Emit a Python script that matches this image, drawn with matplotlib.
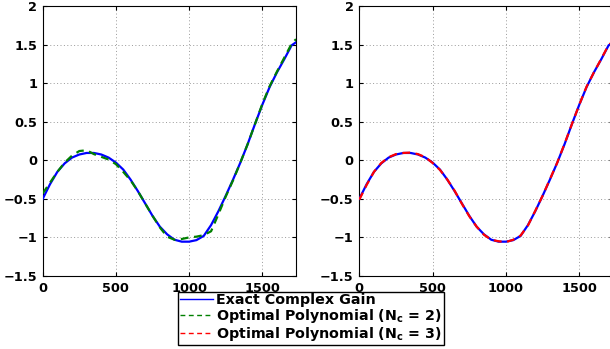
import matplotlib
matplotlib.use("Agg")
import matplotlib.pyplot as plt

# ---- data ----
x = [0, 50, 100, 150, 200, 250, 300, 350, 400, 450, 500, 550, 600, 650, 700,
     750, 800, 850, 900, 950, 1000, 1050, 1100, 1150, 1200, 1250, 1300, 1350,
     1400, 1450, 1500, 1550, 1600, 1650, 1700, 1730]

exact = [-0.50, -0.31, -0.15, -0.04, 0.035, 0.075, 0.095, 0.095, 0.075, 0.035,
         -0.03, -0.12, -0.25, -0.40, -0.56, -0.72, -0.86, -0.96, -1.03, -1.055,
         -1.055, -1.035, -0.98, -0.84, -0.66, -0.46, -0.25, -0.03, 0.21, 0.47,
         0.72, 0.95, 1.14, 1.31, 1.49, 1.53]

poly2 = [-0.43, -0.29, -0.15, -0.03, 0.06, 0.12, 0.13, 0.08, 0.045, 0.01,
         -0.05, -0.15, -0.26, -0.40, -0.56, -0.72, -0.87, -0.99, -1.03, -1.02,
         -1.00, -0.99, -0.97, -0.92, -0.70, -0.47, -0.26, -0.03, 0.21, 0.47,
         0.73, 0.96, 1.15, 1.33, 1.51, 1.57]

poly3 = [-0.51, -0.32, -0.15, -0.035, 0.04, 0.08, 0.095, 0.10, 0.08, 0.04,
         -0.035, -0.125, -0.25, -0.395, -0.565, -0.725, -0.86, -0.965, -1.03, -1.05,
         -1.06, -1.03, -0.975, -0.845, -0.655, -0.46, -0.245, -0.03, 0.215, 0.47,
         0.72, 0.955, 1.14, 1.315, 1.495, 1.54]

xticks = [0, 500, 1000, 1500]
yticks = [-1.5, -1, -0.5, 0, 0.5, 1, 1.5, 2]
ytick_labels = ["\u22121.5", "\u22121", "\u22120.5", "0", "0.5", "1", "1.5", "2"]
labels = ["Exact Complex Gain",
          r"Optimal Polynomial (N$_\mathbf{c}$ = 2)",
          r"Optimal Polynomial (N$_\mathbf{c}$ = 3)"]

plt.rcParams['font.family'] = ['DejaVu Sans']
plt.rcParams['font.weight'] = 'bold'
plt.rcParams['mathtext.fontset'] = 'dejavusans'
plt.rcParams['mathtext.default'] = 'bf'

W, H = 610, 349
fig = plt.figure(figsize=(W / 100, H / 100), dpi=100)

def px_axes(l, t, r, b):
    return fig.add_axes([l / W, 1 - b / H, (r - l) / W, (b - t) / H])

ax1 = px_axes(42.7, 6, 296, 276)
ax2 = px_axes(359.3, 6, 613, 276)

blue = (0, 0, 1)
green = (0, 0.5, 0)
red = (1, 0, 0)

h = []
for ax, poly, col in [(ax1, poly2, green), (ax2, poly3, red)]:
    lb, = ax.plot(x, exact, color=blue, lw=1.6, zorder=3)
    ld, = ax.plot(x, poly, color=col, lw=1.6, ls=(0, (3.5, 2.5)), zorder=4)
    h.append((lb, ld))
    ax.set_xlim(0, 1730)
    ax.set_ylim(-1.5, 2)
    ax.set_xticks(xticks)
    ax.set_xticklabels([str(t) for t in xticks], fontweight='bold', fontsize=9.3)
    ax.set_yticks(yticks)
    ax.set_yticklabels(ytick_labels, fontweight='bold', fontsize=9.3)
    ax.grid(True, color='0.6', ls=(0, (1, 2.5)), lw=0.7)
    ax.set_axisbelow(True)
    ax.tick_params(direction='in', top=True, right=True, length=3, width=0.8,
                   pad=4)
    for s in ax.spines.values():
        s.set_linewidth(0.8)
        s.set_color('black')

handles = [h[0][0], h[0][1], h[1][1]]
leg = fig.legend(handles, labels, loc='upper center',
                 bbox_to_anchor=(311 / W, 1 - 292 / H), bbox_transform=fig.transFigure,
                 frameon=True, fancybox=False, edgecolor='black', framealpha=1,
                 prop={'weight': 'bold', 'size': 10.3}, handlelength=2.3,
                 handletextpad=0.25, labelspacing=0.0, borderpad=0.1,
                 borderaxespad=0)
leg.get_frame().set_linewidth(1.0)
for line in leg.get_lines():
    line.set_linewidth(1.0)

fig.savefig("out.png", dpi=100)
